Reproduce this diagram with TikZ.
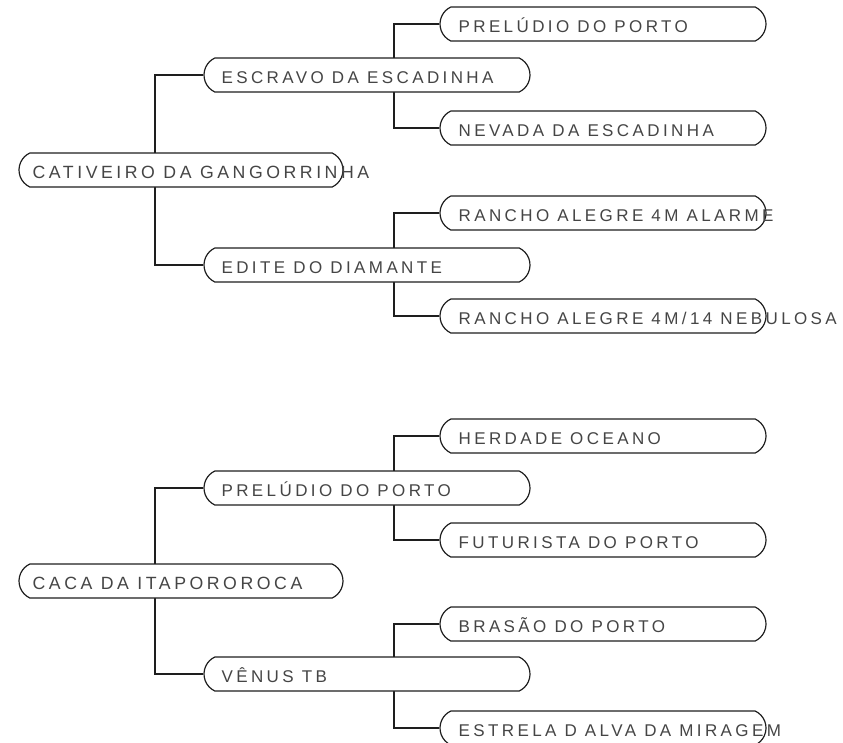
\documentclass[tikz,border=0pt]{standalone}
\usepackage{fontspec}
\setmainfont{Liberation Sans}
\newfontfamily\spacedfont[LetterSpace=20]{Liberation Sans}
\usetikzlibrary{shapes.misc,backgrounds}
\definecolor{txtgray}{HTML}{454545}
\definecolor{linegray}{HTML}{1E1E1E}
\begin{document}
\begin{tikzpicture}[x=1pt,y=-1pt,
  box/.style={rounded rectangle, rounded rectangle arc length=130, draw=linegray,
    line width=1.2pt, fill=white, minimum width=326pt, minimum height=34pt, inner sep=0pt},
  rootbox/.style={box, minimum width=324pt},
  lbl/.style={anchor=base west, inner sep=0pt, text=txtgray,
    font=\spacedfont\fontsize{17}{20}\selectfont},
  rootlbl/.style={lbl, font=\spacedfont\fontsize{17.7}{21}\selectfont},
  conn/.style={draw=linegray, line width=1.1pt}]
\useasboundingbox (0,0) rectangle (843,742);

% ---- top tree ----
\node[rootbox] (r1) at (181,170) {};
\node[box] (esc) at (367,75) {};
\node[box] (edi) at (367,265) {};
\node[box] (pre1) at (603,24) {};
\node[box] (nev) at (603,128) {};
\node[box] (ral) at (603,213) {};
\node[box] (rne) at (603,316) {};
\coordinate (j1) at (155,170);
\coordinate (j2) at (394,75);
\coordinate (j3) at (394,265);

% ---- bottom tree ----
\node[rootbox] (r2) at (181,581) {};
\node[box] (pre2) at (367,488) {};
\node[box] (ven) at (367,674) {};
\node[box] (her) at (603,436) {};
\node[box] (fut) at (603,540) {};
\node[box] (bra) at (603,624) {};
\node[box] (est) at (603,728) {};
\coordinate (k1) at (155,581);
\coordinate (k2) at (394,488);
\coordinate (k3) at (394,674);

\begin{scope}[on background layer]
\draw[conn] (esc.west) -| (j1) |- (edi.west);
\draw[conn] (pre1.west) -| (j2) |- (nev.west);
\draw[conn] (ral.west) -| (j3) |- (rne.west);
\draw[conn] (pre2.west) -| (k1) |- (ven.west);
\draw[conn] (her.west) -| (k2) |- (fut.west);
\draw[conn] (bra.west) -| (k3) |- (est.west);
\end{scope}

\path (r1.west) ++(14,8) node[rootlbl] {CATIVEIRO DA GANGORRINHA};
\path (esc.west) ++(18,8) node[lbl] {ESCRAVO DA ESCADINHA};
\path (edi.west) ++(18,8) node[lbl] {EDITE DO DIAMANTE};
\path (pre1.west) ++(19,8) node[lbl] {PRELÚDIO DO PORTO};
\path (nev.west) ++(19,8) node[lbl] {NEVADA DA ESCADINHA};
\path (ral.west) ++(19,8) node[lbl] {RANCHO ALEGRE 4M ALARME};
\path (rne.west) ++(19,8) node[lbl] {RANCHO ALEGRE 4M/14 NEBULOSA};

\path (r2.west) ++(14,8) node[rootlbl] {CACA DA ITAPOROROCA};
\path (pre2.west) ++(18,8) node[lbl] {PRELÚDIO DO PORTO};
\path (ven.west) ++(18,8) node[lbl] {VÊNUS TB};
\path (her.west) ++(19,8) node[lbl] {HERDADE OCEANO};
\path (fut.west) ++(19,8) node[lbl] {FUTURISTA DO PORTO};
\path (bra.west) ++(19,8) node[lbl] {BRASÃO DO PORTO};
\path (est.west) ++(19,8) node[lbl] {ESTRELA D ALVA DA MIRAGEM};
\end{tikzpicture}
\end{document}
